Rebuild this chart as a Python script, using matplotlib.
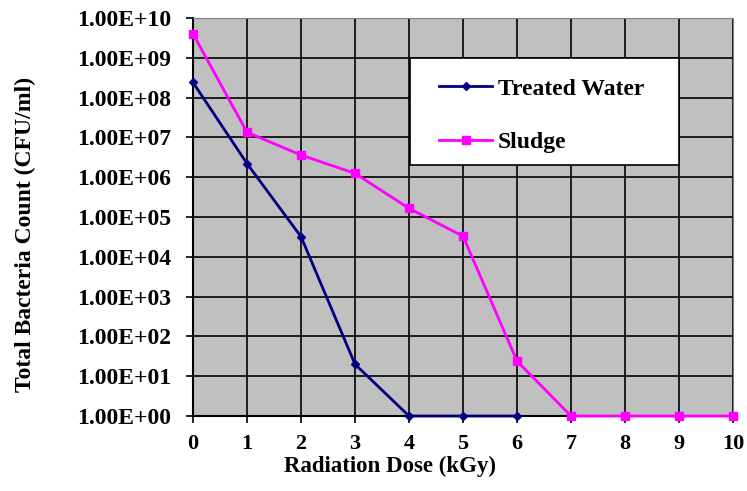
import matplotlib.pyplot as plt
from matplotlib.patches import Rectangle

# Radiation dose (kGy) and bacteria counts (CFU/ml)
dose_water = [0, 1, 2, 3, 4, 5, 6]
treated_water = [2.4e8, 2.2e6, 3.2e4, 20, 1, 1, 1]

dose_sludge = [0, 1, 2, 3, 4, 5, 6, 7, 8, 9, 10]
sludge = [4.0e9, 1.35e7, 3.6e6, 1.25e6, 1.65e5, 3.3e4, 24, 1, 1, 1, 1]

y_ticks = [10.0 ** k for k in range(11)]
y_labels = ["1.00E+%02d" % k for k in range(11)]

plt.rcParams['font.family'] = ['Liberation Serif', 'DejaVu Serif']
plt.rcParams['font.weight'] = 'bold'

fig = plt.figure(figsize=(7.47, 4.91), dpi=100)
ax = fig.add_axes([0.2584, 0.1527, 0.7229, 0.8106])
ax.set_facecolor('#C0C0C0')

ax.plot(dose_water, treated_water, color='#000080', marker='D', markersize=4,
        linewidth=2, label='Treated Water', zorder=3, clip_on=False)
ax.plot(dose_sludge, sludge, color='#FF00FF', marker='s', markersize=6,
        linewidth=2, label='Sludge', zorder=3, clip_on=False)

ax.set_yscale('log')
ax.set_ylim(1, 1e10)
ax.set_xlim(0, 10)
ax.set_yticks(y_ticks)
ax.set_yticklabels(y_labels)
ax.minorticks_off()
ax.set_xticks(range(11))

ax.grid(True, color='black', linewidth=1.2)
ax.set_axisbelow(True)
ax.tick_params(axis='both', length=5, width=1.2, direction='out')
ax.tick_params(axis='y', labelsize=17, pad=11)
ax.tick_params(axis='x', labelsize=16, pad=8)

for side in ['top', 'right']:
    ax.spines[side].set_color('#808080')
ax.spines['left'].set_linewidth(1.5)
ax.spines['bottom'].set_linewidth(1.5)

ax.set_xlabel("Radiation Dose (kGy)", fontsize=16.5, fontweight='bold')
ax.xaxis.set_label_coords(0.365, -0.10)
ax.set_ylabel("Total Bacteria Count (CFU/ml)", fontsize=17, fontweight='bold')
ax.yaxis.set_label_coords(-0.29, 0.455)

# legend box drawn separately so its size matches the original
box = Rectangle((0.402, 0.6307), 0.498, 0.2688, transform=ax.transAxes,
                facecolor='white', edgecolor='black', linewidth=1.2, zorder=4)
ax.add_patch(box)
leg = ax.legend(loc='upper left', bbox_to_anchor=(0.4556, 0.849), fontsize=17,
                frameon=False, handlelength=2.25, handletextpad=0.25,
                labelspacing=1.35, borderpad=0, borderaxespad=0)
leg.set_zorder(5)

plt.savefig('out.png', dpi=100)
